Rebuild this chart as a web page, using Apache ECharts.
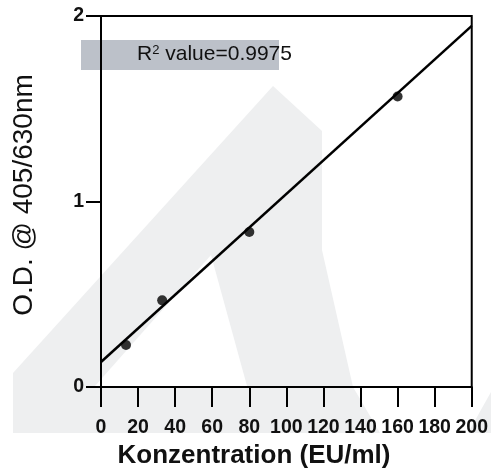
<!DOCTYPE html>
<html>
<head>
<meta charset="utf-8">
<script src="https://cdn.jsdelivr.net/npm/echarts@6/dist/echarts.min.js"></script>
<style>html,body{margin:0;padding:0;background:#fff;}#c{width:491px;height:471px;}</style>
</head>
<body>
<div id="c"></div>
<script>
// Data
const concentrations = [13.5, 33, 80, 160];      // EU/ml
const odValues = [0.226, 0.467, 0.836, 1.566];   // O.D. @ 405/630nm
const fitX = [0, 200];
const fitY = [0.135, 1.947];
const r2Label = 'R{sup|2} value=0.9975';
const xTitle = 'Konzentration (EU/ml)';
const yTitle = 'O.D. @ 405/630nm';

const chart = echarts.init(document.getElementById('c'), null, {renderer: 'canvas'});
const font = '"Liberation Sans", Arial, Helvetica, sans-serif';
const wm = '#eeeff0';

chart.setOption({
  animation: false,
  backgroundColor: '#ffffff',
  textStyle: {fontFamily: font},
  grid: {left: 101, right: 18, top: 16, bottom: 84, show: true, borderColor: '#000', borderWidth: 2, backgroundColor: 'transparent'},
  xAxis: {
    type: 'value', min: 0, max: 200, interval: 20,
    axisLine: {show: true, onZero: false, lineStyle: {color: '#000', width: 2}},
    axisTick: {show: true, inside: false, length: 20, lineStyle: {color: '#000', width: 2}},
    axisLabel: {margin: 31, color: '#111', fontSize: 19.5, fontWeight: 'bold', fontFamily: font, verticalAlign: 'top'},
    splitLine: {show: false}
  },
  yAxis: {
    type: 'value', min: 0, max: 2, interval: 1,
    axisLine: {show: true, onZero: false, lineStyle: {color: '#000', width: 2}},
    axisTick: {show: true, inside: false, length: 15, lineStyle: {color: '#000', width: 2}},
    axisLabel: {margin: 17, color: '#111', fontSize: 19.5, fontWeight: 'bold', fontFamily: font},
    splitLine: {show: false}
  },
  graphic: [
    {type: 'polygon', z: -10, silent: true,
     shape: {points: [[13,433],[13,373],[273,86],[322,131],[322,250],[353,387],[380,433]]},
     style: {fill: wm}},
    {type: 'polygon', z: -9, silent: true,
     shape: {points: [[211,255],[95,386],[247,386]]},
     style: {fill: '#ffffff'}},
    {type: 'polygon', z: -10, silent: true,
     shape: {points: [[468,433],[491,433],[491,392]]},
     style: {fill: wm}},
    {type: 'rect', z: -5, silent: true,
     shape: {x: 81, y: 40, width: 198, height: 30},
     style: {fill: '#bcc1c9'}},
    {type: 'text', z: 5, silent: true, left: 137, top: 44,
     style: {text: r2Label, fontSize: 21, fontFamily: font, fill: '#111',
       rich: {sup: {fontSize: 13, verticalAlign: 'top', padding: [0,0,8,0], fontFamily: font, fill: '#111'}}}},
    {type: 'text', z: 5, silent: true, x: 254, y: 456,
     style: {text: xTitle, fontSize: 26, fontWeight: 'bold', fontFamily: font, fill: '#111', align: 'center', verticalAlign: 'middle'}},
    {type: 'text', z: 5, silent: true, x: 24, y: 195, rotation: Math.PI / 2,
     style: {text: yTitle, fontSize: 28, fontFamily: font, fill: '#111', align: 'center', verticalAlign: 'middle'}}
  ],
  series: [
    {type: 'line', data: fitX.map((x, i) => [x, fitY[i]]), symbol: 'none',
     lineStyle: {color: '#000', width: 2.5}, z: 3},
    {type: 'scatter', data: concentrations.map((x, i) => [x, odValues[i]]),
     symbol: 'circle', symbolSize: 10, itemStyle: {color: '#000'}, z: 4}
  ]
});
</script>
</body>
</html>
